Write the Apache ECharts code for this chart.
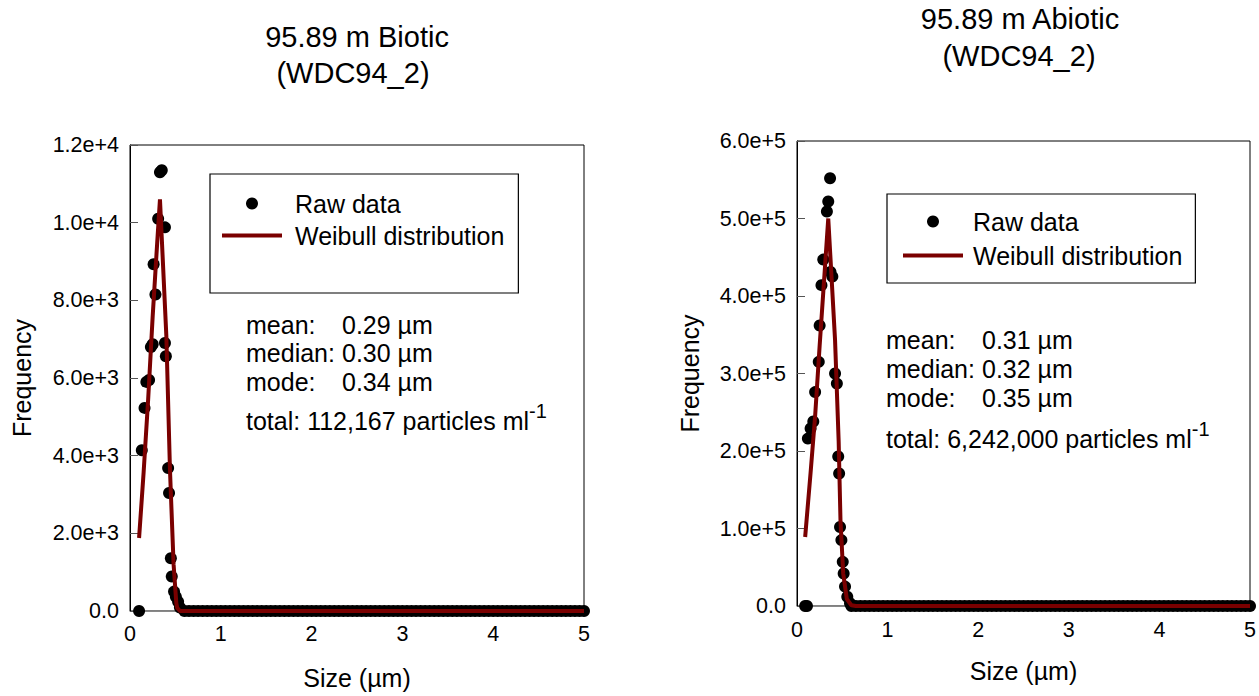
<!DOCTYPE html>
<html>
<head>
<meta charset="utf-8">
<script src="https://cdn.jsdelivr.net/npm/echarts@6/dist/echarts.min.js"></script>
<style>
html,body{margin:0;padding:0;background:#fff;}
#chart{width:1259px;height:696px;}
</style>
</head>
<body>
<div id="chart"></div>
<script>
// ---------------- data ----------------
const leftTitle = ['95.89 m Biotic', '(WDC94_2)'];
const rightTitle = ['95.89 m Abiotic', '(WDC94_2)'];
const seriesNames = ['Raw data', 'Weibull distribution'];

// Biotic raw data (size µm, frequency)
const leftRawSize = [0.10, 0.13, 0.16, 0.18, 0.21, 0.23, 0.25, 0.26, 0.28, 0.31, 0.33, 0.35, 0.385, 0.385, 0.395, 0.42, 0.43, 0.45, 0.46, 0.485, 0.505, 0.53, 0.55];
const leftRawFreq = [0, 4140, 5230, 5900, 5950, 6800, 6870, 8930, 8150, 10100, 11300, 11350, 9880, 6900, 6560, 3680, 3040, 1360, 890, 500, 370, 240, 90];
// Biotic Weibull fit
const leftFitSize = [0.10, 0.15, 0.20, 0.25, 0.30, 0.33, 0.36, 0.40, 0.44, 0.48, 0.51, 0.52, 0.55, 5.0];
const leftFitFreq = [1880, 3570, 5450, 7600, 9500, 10600, 9100, 7100, 3650, 1200, 200, 80, 0, 0];

// Abiotic raw data
const rightRawSize = [0.09, 0.11, 0.12, 0.15, 0.18, 0.20, 0.24, 0.25, 0.27, 0.29, 0.33, 0.345, 0.365, 0.37, 0.39, 0.42, 0.44, 0.455, 0.465, 0.475, 0.49, 0.505, 0.515, 0.53, 0.555, 0.585];
const rightRawFreq = [0, 0, 216000, 229000, 238000, 276000, 315000, 362000, 414000, 447000, 509000, 522000, 552000, 431000, 425000, 300000, 287000, 193000, 171000, 102000, 85000, 57000, 42000, 25000, 12000, 3500];
// Abiotic Weibull fit
const rightFitSize = [0.09, 0.15, 0.20, 0.25, 0.30, 0.345, 0.38, 0.42, 0.46, 0.48, 0.51, 0.55, 0.60, 0.65, 5.0];
const rightFitFreq = [89000, 172000, 245000, 336000, 422000, 500000, 427000, 343000, 212000, 110000, 42000, 9000, 1000, 0, 0];

// sizes in the long tail where the raw frequency is 0 (both panels)
const zeroTailSizes = [0.6,0.65,0.7,0.75,0.8,0.85,0.9,0.95,1,1.05,1.1,1.15,1.2,1.25,1.3,1.35,1.4,1.45,1.5,1.55,1.6,1.65,1.7,1.75,1.8,1.85,1.9,1.95,2,2.05,2.1,2.15,2.2,2.25,2.3,2.35,2.4,2.45,2.5,2.55,2.6,2.65,2.7,2.75,2.8,2.85,2.9,2.95,3,3.05,3.1,3.15,3.2,3.25,3.3,3.35,3.4,3.45,3.5,3.55,3.6,3.65,3.7,3.75,3.8,3.85,3.9,3.95,4,4.05,4.1,4.15,4.2,4.25,4.3,4.35,4.4,4.45,4.5,4.55,4.6,4.65,4.7,4.75,4.8,4.85,4.9,4.95,5];

const xTickLabels = ['0', '1', '2', '3', '4', '5'];
const leftYTickLabels = ['0.0', '2.0e+3', '4.0e+3', '6.0e+3', '8.0e+3', '1.0e+4', '1.2e+4'];
const rightYTickLabels = ['0.0', '1.0e+5', '2.0e+5', '3.0e+5', '4.0e+5', '5.0e+5', '6.0e+5'];

const leftStats = [['mean:', '0.29 µm'], ['median:', '0.30 µm'], ['mode:', '0.34 µm']];
const leftTotal = '112,167';
const rightStats = [['mean:', '0.31 µm'], ['median:', '0.32 µm'], ['mode:', '0.35 µm']];
const rightTotal = '6,242,000';

// ---------------- chart ----------------
const FONT = '"Liberation Sans", Arial, sans-serif';
const RED = '#7a0000';
const chart = echarts.init(document.getElementById('chart'), null, {renderer: 'svg'});

function zip(a, b) { return a.map((v, i) => [v, b[i]]); }
function rawData(sz, fq) { return zip(sz, fq).concat(zeroTailSizes.map(s => [s, 0])); }

function xAxisCfg(idx, gap, margin) {
  return {
    type: 'value', gridIndex: idx, min: 0, max: 5, interval: 1,
    name: 'Size (µm)', nameLocation: 'middle', nameGap: gap,
    nameTextStyle: {fontFamily: FONT, fontSize: 25, color: '#000'},
    axisLine: {show: true, onZero: false, lineStyle: {color: '#888', width: 1}},
    axisTick: {show: false},
    splitLine: {show: false},
    axisLabel: {fontFamily: FONT, fontSize: 21.5, color: '#000', margin: margin,
      formatter: v => xTickLabels[Math.round(v)]}
  };
}
function yAxisCfg(idx, max, interval, labels, gap) {
  return {
    type: 'value', gridIndex: idx, min: 0, max: max, interval: interval,
    name: 'Frequency', nameLocation: 'middle', nameGap: gap, nameRotate: 90,
    nameTextStyle: {fontFamily: FONT, fontSize: 25, color: '#000'},
    axisLine: {show: true, lineStyle: {color: '#000', width: 1}},
    axisTick: {show: true, inside: true, length: 8, lineStyle: {color: '#555'}},
    splitLine: {show: false},
    axisLabel: {fontFamily: FONT, fontSize: 21.5, color: '#000', margin: 11,
      formatter: v => labels[Math.round(v / interval)]}
  };
}
function legendCfg(left, top, padding, gap, textPad) {
  return {
    show: true, orient: 'vertical', left: left, top: top,
    data: [{name: 'Raw data', icon: 'circle'}, {name: 'Weibull distribution', icon: 'path://M0 0H60V4H0Z'}],
    itemWidth: 60, itemHeight: 12, itemGap: gap,
    padding: padding, borderColor: '#000', borderWidth: 1.2, backgroundColor: '#fff',
    selectedMode: false,
    textStyle: {fontFamily: FONT, fontSize: 25, color: '#000', padding: [0, 0, 0, textPad]}
  };
}
function textEl(txt, x, y, align, size) {
  return {type: 'text', x: x, y: y, z: 100,
    style: {text: txt, fill: '#000', font: size + 'px ' + FONT, align: align, verticalAlign: 'middle'}};
}
function totalEl(total, x, y) {
  return {type: 'text', x: x, y: y, z: 100,
    style: {text: '{m|total: ' + total + ' particles ml}{s|-1}', align: 'left', verticalAlign: 'middle',
      rich: {m: {fontFamily: FONT, fontSize: 25, fill: '#000', lineHeight: 32, verticalAlign: 'bottom'},
             s: {fontFamily: FONT, fontSize: 20, fill: '#000', lineHeight: 20, verticalAlign: 'top'}}}};
}

const graphics = [];
graphics.push(textEl(leftTitle[0], 357, 37, 'center', 29));
graphics.push(textEl(leftTitle[1], 353, 73, 'center', 29));
graphics.push(textEl(rightTitle[0], 1020, 19, 'center', 29));
graphics.push(textEl(rightTitle[1], 1019, 56, 'center', 29));
const lY = [325, 353, 382], rY = [340, 369, 398];
leftStats.forEach((s, i) => { graphics.push(textEl(s[0], 246, lY[i], 'left', 25)); graphics.push(textEl(s[1], 342, lY[i], 'left', 25)); });
rightStats.forEach((s, i) => { graphics.push(textEl(s[0], 886, rY[i], 'left', 25)); graphics.push(textEl(s[1], 982, rY[i], 'left', 25)); });
graphics.push(totalEl(leftTotal, 246, 417));
graphics.push(totalEl(rightTotal, 886, 435));

const option = {
  backgroundColor: '#fff',
  animation: false,
  textStyle: {fontFamily: FONT},
  grid: [
    {left: 130, top: 145, width: 454, height: 466, show: true, borderColor: '#000', borderWidth: 1, backgroundColor: 'transparent'},
    {left: 797, top: 141, width: 453, height: 465, show: true, borderColor: '#000', borderWidth: 1, backgroundColor: 'transparent'}
  ],
  xAxis: [xAxisCfg(0, 54, 12), xAxisCfg(1, 52, 13)],
  yAxis: [yAxisCfg(0, 12000, 2000, leftYTickLabels, 96), yAxisCfg(1, 600000, 100000, rightYTickLabels, 95)],
  legend: [
    legendCfg(210, 174, [17, 14, 45, 12], 7, 8),
    legendCfg(887, 194, [15, 13, 15, 16], 9, 5)
  ],
  series: [
    {name: seriesNames[0], type: 'scatter', xAxisIndex: 0, yAxisIndex: 0, data: rawData(leftRawSize, leftRawFreq),
      symbol: 'circle', symbolSize: 12, itemStyle: {color: '#000', opacity: 1}, z: 2, clip: false},
    {name: seriesNames[1], type: 'line', xAxisIndex: 0, yAxisIndex: 0, data: zip(leftFitSize, leftFitFreq),
      symbol: 'none', showSymbol: false, lineStyle: {color: RED, width: 4}, itemStyle: {color: RED}, z: 3},
    {name: seriesNames[0], type: 'scatter', xAxisIndex: 1, yAxisIndex: 1, data: rawData(rightRawSize, rightRawFreq),
      symbol: 'circle', symbolSize: 12, itemStyle: {color: '#000', opacity: 1}, z: 2, clip: false},
    {name: seriesNames[1], type: 'line', xAxisIndex: 1, yAxisIndex: 1, data: zip(rightFitSize, rightFitFreq),
      symbol: 'none', showSymbol: false, lineStyle: {color: RED, width: 4}, itemStyle: {color: RED}, z: 3}
  ],
  graphic: graphics
};
chart.setOption(option);
</script>
</body>
</html>
